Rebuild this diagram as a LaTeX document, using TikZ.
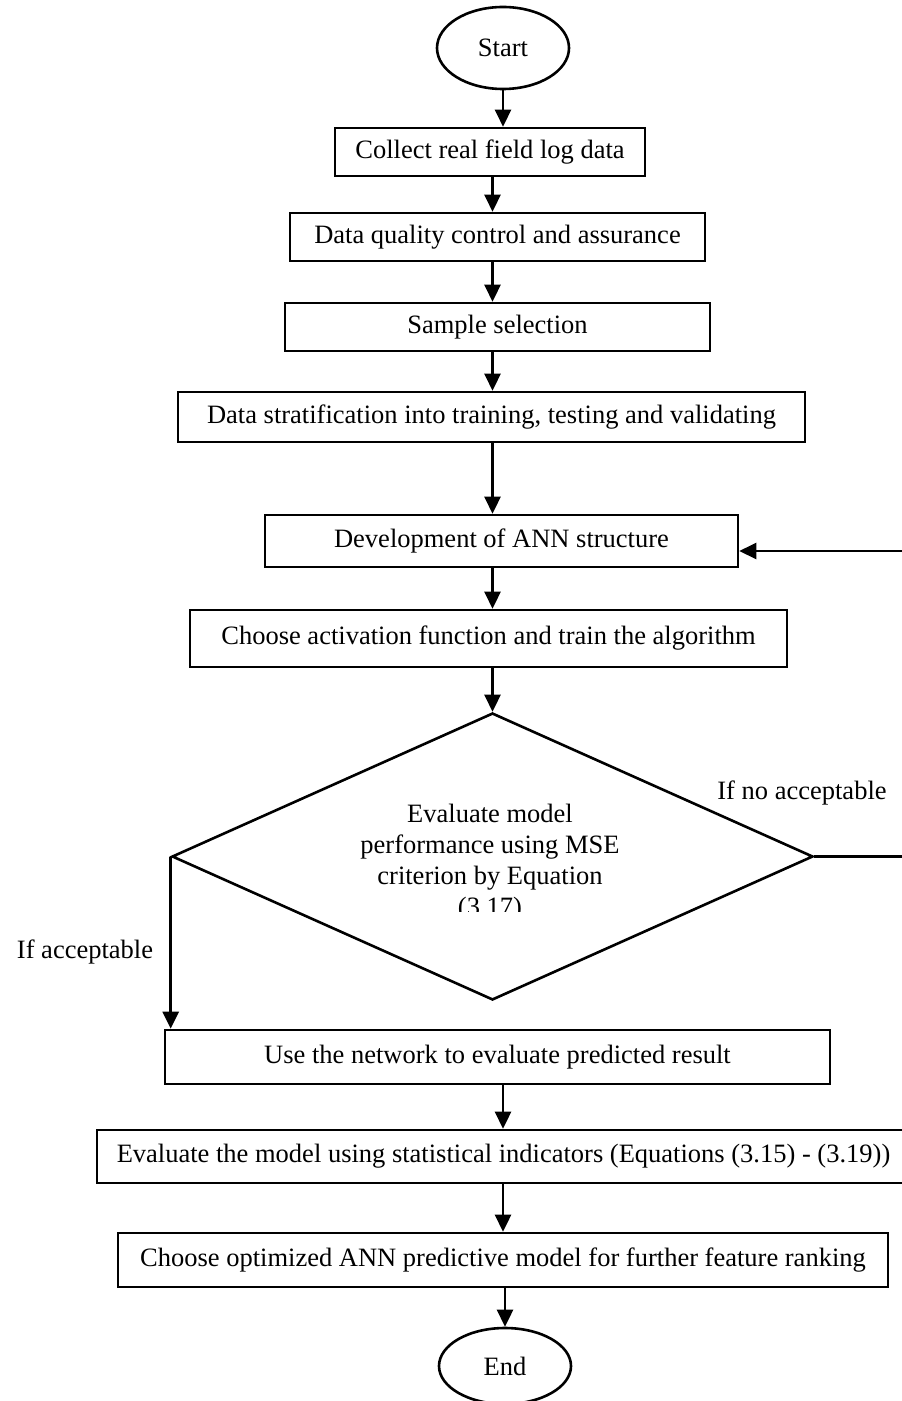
\documentclass[tikz,border=0pt]{standalone}
\usepackage{fontspec}
\setmainfont{Liberation Serif}
\usetikzlibrary{shapes.geometric,arrows.meta}
\begin{document}
\begin{tikzpicture}[x=0.5pt,y=-0.5pt,
  every node/.style={font=\fontsize{13.25pt}{15.5pt}\selectfont},
  line/.style={line width=1.3pt},
  arr/.style={line width=1.3pt,-{Triangle[length=8.5pt,width=8pt]}},
  stepbox/.style={draw,line width=1.3pt,rectangle,inner sep=0pt,align=center},
  terminal/.style={draw,line width=1.3pt,ellipse,inner sep=0pt,minimum width=66pt,minimum height=41pt},
  lbl/.style={inner sep=0pt}]
\useasboundingbox (0,0) rectangle (901,1401);

% terminals
\node[terminal] (start) at (503,48) {Start};
\node[terminal,minimum height=38pt] (end) at (505,1366) {End};

% process boxes
\node[stepbox,minimum width=155pt,minimum height=24pt] (b1) at (490,152) {Collect real field log data};
\node[stepbox,minimum width=207.5pt,minimum height=24pt] (b2) at (497.5,237) {Data quality control and assurance};
\node[stepbox,minimum width=212.5pt,minimum height=24pt] (b3) at (497.5,327) {Sample selection};
\node[stepbox,minimum width=313.5pt,minimum height=25pt] (b4) at (491.5,417) {Data stratification into training, testing and validating};
\node[stepbox,minimum width=236.5pt,minimum height=26pt] (b5) at (501.5,541) {Development of ANN structure};
\node[stepbox,minimum width=298.5pt,minimum height=28.5pt] (b6) at (488.5,638.5) {Choose activation function and train the algorithm};
\node[stepbox,minimum width=332.5pt,minimum height=27pt] (b7) at (497.5,1057) {Use the network to evaluate predicted result};
\node[stepbox,minimum width=406.5pt,minimum height=26.5pt] (b8) at (503.5,1156.5) {Evaluate the model using statistical indicators (Equations (3.15) - (3.19))};
\node[stepbox,minimum width=385pt,minimum height=27pt] (b9) at (503,1260) {Choose optimized ANN predictive model for further feature ranking};

% decision
\node[draw,line width=1.3pt,diamond,inner sep=0pt,minimum width=320.5pt,minimum height=143.5pt] (dia) at (492.5,856.5) {};
\begin{scope}
  \clip (320,780) rectangle (660,911);
  \node[lbl,anchor=north,align=center] (diatext) at (490,804)
    {Evaluate model\\performance using MSE\\criterion by Equation\\(3.17)};
\end{scope}

% branch labels
\node[lbl] (yes) at (85,952) {If acceptable};
\node[lbl] (no) at (802,793) {If no acceptable};

% main flow
\draw[arr] (start.south) -- (start.south |- b1.north);
\draw[arr] (b1.south -| dia.north) -- (b2.north -| dia.north);
\draw[arr] (b2.south -| dia.north) -- (b3.north -| dia.north);
\draw[arr] (b3.south -| dia.north) -- (b4.north -| dia.north);
\draw[arr] (b4.south -| dia.north) -- (b5.north -| dia.north);
\draw[arr] (b5.south -| dia.north) -- (b6.north -| dia.north);
\draw[arr] (b6.south -| dia.north) -- (dia.north);
\draw[arr] (dia.west) -- (dia.west |- b7.north);
\draw[arr] (b7.south -| b9.north) -- (b8.north -| b9.north);
\draw[arr] (b8.south -| b9.north) -- (b9.north);
\draw[arr] (b9.south -| end.north) -- (end.north);

% loop back when the error is not acceptable
\coordinate (rt) at (904,551);
\draw[line] (dia.east) -- (dia.east -| rt) -- (rt);
\draw[arr] (rt) -- (rt -| b5.east);
\end{tikzpicture}
\end{document}
